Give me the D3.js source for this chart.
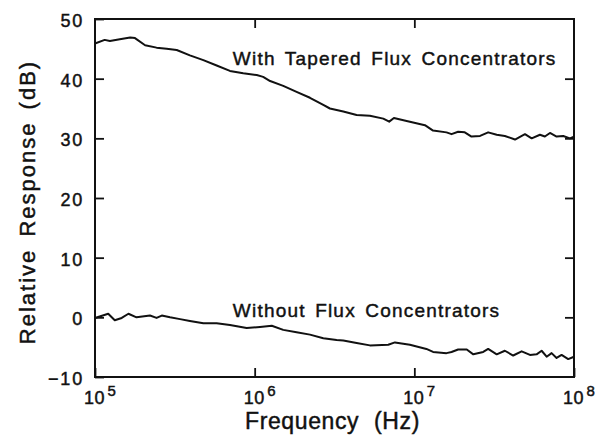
<!DOCTYPE html>
<html>
<head>
<meta charset="utf-8">
<script src="https://cdn.jsdelivr.net/npm/d3@7"></script>
<style>
  body { margin: 0; background: #fff; }
  svg { display: block; font-family: "Liberation Sans", Arial, Helvetica, sans-serif; }
  text { fill: #111; stroke: #111; stroke-width: 0.45px; }
</style>
</head>
<body>
<svg id="chart" width="607" height="435"></svg>
<script>
// with tapered flux concentrators
const taperedFreq = [1.00e5, 1.15e5, 1.24e5, 1.43e5, 1.66e5, 1.78e5, 2.06e5, 2.43e5, 2.81e5, 3.25e5,
  3.93e5, 4.77e5, 5.78e5, 7.00e5, 8.48e5, 1.03e6, 1.13e6, 1.25e6, 1.51e6, 1.83e6,
  2.22e6, 2.69e6, 2.96e6, 3.59e6, 4.35e6, 5.27e6, 6.39e6, 6.96e6, 7.45e6, 8.95e6,
  1.165e7, 1.31e7, 1.59e7, 1.71e7, 1.88e7, 2.07e7, 2.28e7, 2.58e7, 2.90e7, 3.28e7,
  3.69e7, 4.27e7, 4.93e7, 5.43e7, 6.12e7, 6.57e7, 7.07e7, 7.78e7, 8.56e7, 9.43e7, 1.00e8];
const taperedDb = [45.9, 46.5, 46.3, 46.6, 46.9, 46.8, 45.6, 45.2, 45.0, 44.8,
  43.9, 43.1, 42.2, 41.3, 40.9, 40.6, 40.3, 39.6, 38.8, 37.8,
  36.8, 35.6, 35.0, 34.5, 33.9, 33.8, 33.3, 32.8, 33.4, 32.9,
  32.2, 31.3, 31.0, 30.7, 31.1, 31.0, 30.3, 30.4, 31.0, 30.6,
  30.4, 29.8, 30.7, 30.0, 30.6, 30.3, 30.9, 30.3, 30.4, 30.0, 30.3];

// without flux concentrators
const bareFreq = [1.00e5, 1.21e5, 1.33e5, 1.47e5, 1.62e5, 1.82e5, 2.21e5, 2.43e5, 2.62e5, 2.95e5,
  3.41e5, 3.93e5, 4.77e5, 5.78e5, 7.00e5, 8.91e5, 1.08e6, 1.28e6, 1.51e6, 1.83e6,
  2.22e6, 2.69e6, 3.26e6, 3.59e6, 4.35e6, 5.27e6, 6.86e6, 7.56e6, 9.38e6, 1.19e7,
  1.31e7, 1.59e7, 1.71e7, 1.88e7, 2.13e7, 2.34e7, 2.70e7, 2.90e7, 3.28e7, 3.69e7,
  4.16e7, 4.70e7, 5.30e7, 5.83e7, 6.27e7, 6.74e7, 7.24e7, 7.78e7, 8.36e7, 9.20e7, 1.00e8];
const bareDb = [-0.1, 0.6, -0.5, -0.1, 0.6, 0.0, 0.3, -0.1, 0.3, 0.0,
  -0.3, -0.6, -1.0, -1.0, -1.3, -1.8, -1.6, -1.4, -2.1, -2.5,
  -2.9, -3.5, -3.8, -3.9, -4.3, -4.7, -4.6, -4.2, -4.6, -5.3,
  -5.8, -6.0, -5.8, -5.4, -5.4, -6.2, -5.8, -5.3, -6.2, -5.6,
  -6.4, -5.7, -6.3, -6.2, -5.6, -6.6, -6.0, -6.8, -6.3, -7.0, -6.6];

const yTicks = [-10, 0, 10, 20, 30, 40, 50];
const xTicks = [1e5, 1e6, 1e7, 1e8];
const seriesLabels = ["With Tapered Flux Concentrators", "Without Flux Concentrators"];
const labelAnchors = [[7.3e5, 42.3], [7.3e5, 0]];

const margin = { top: 19, right: 33, bottom: 58, left: 95 };
const width = 607 - margin.left - margin.right;
const height = 435 - margin.top - margin.bottom;

const svg = d3.select("#chart");
const g = svg.append("g").attr("transform", `translate(${margin.left},${margin.top})`);

const x = d3.scaleLog().domain([1e5, 1e8]).range([0, width]);
const y = d3.scaleLinear().domain([-10, 50]).range([height, 0]);

// ticks pointing inwards
const tickLen = 9;

const left = g.append("g")
  .call(d3.axisLeft(y).tickValues(yTicks).tickSize(-tickLen).tickPadding(11).tickFormat(d3.format("d")));
left.selectAll("text").attr("font-size", 18).attr("letter-spacing", 1.8).attr("dy", "0.42em");

g.append("g")
  .attr("transform", `translate(${width},0)`)
  .call(d3.axisRight(y).tickValues(yTicks.slice(1, -1)).tickSize(-tickLen).tickFormat(""));

g.append("g")
  .call(d3.axisTop(x).tickValues(xTicks.slice(1, -1)).tickSize(-tickLen).tickFormat(""));

const bottom = g.append("g")
  .attr("transform", `translate(0,${height})`)
  .call(d3.axisBottom(x).tickValues(xTicks).tickSize(-tickLen).tickFormat(""));

// 10 with superscript exponent
bottom.selectAll(".tick").each(function (d) {
  const t = d3.select(this);
  t.select("text").remove();
  t.append("text")
    .attr("x", -1).attr("y", 27)
    .attr("text-anchor", "middle")
    .attr("font-size", 18).attr("letter-spacing", 0.5)
    .text("10");
  t.append("text")
    .attr("x", 12).attr("y", 19)
    .attr("text-anchor", "start")
    .attr("font-size", 15)
    .text(Math.round(Math.log10(d)));
});

g.selectAll(".domain").remove();
g.selectAll(".tick line").attr("stroke", "#111").attr("stroke-width", 1.8);
g.selectAll(".tick text").attr("fill", "#111");

// frame
g.append("rect")
  .attr("width", width).attr("height", height)
  .attr("fill", "none").attr("stroke", "#111").attr("stroke-width", 2);

const line = d3.line()
  .x(d => x(d[0]))
  .y(d => y(d[1]));

const series = [
  d3.zip(taperedFreq, taperedDb),
  d3.zip(bareFreq, bareDb)
];

g.selectAll(".curve")
  .data(series)
  .join("path")
  .attr("class", "curve")
  .attr("d", line)
  .attr("fill", "none")
  .attr("stroke", "#111")
  .attr("stroke-width", 2)
  .attr("stroke-linejoin", "round");

g.selectAll(".series-label")
  .data(seriesLabels)
  .join("text")
  .attr("class", "series-label")
  .attr("x", (d, i) => x(labelAnchors[i][0]))
  .attr("y", (d, i) => y(labelAnchors[i][1]))
  .attr("font-size", 19)
  .attr("letter-spacing", 1.2)
  .attr("word-spacing", 3)
  .text(d => d);

// axis titles
svg.append("text")
  .attr("x", margin.left + width / 2 - 2)
  .attr("y", 429)
  .attr("text-anchor", "middle")
  .attr("font-size", 23)
  .attr("letter-spacing", 0.6)
  .attr("word-spacing", 8)
  .text("Frequency (Hz)");

svg.append("text")
  .attr("transform", `translate(35,${margin.top + 183}) rotate(-90)`)
  .attr("text-anchor", "middle")
  .attr("font-size", 22)
  .attr("letter-spacing", 2)
  .attr("word-spacing", 4)
  .text("Relative Response (dB)");
</script>
</body>
</html>
